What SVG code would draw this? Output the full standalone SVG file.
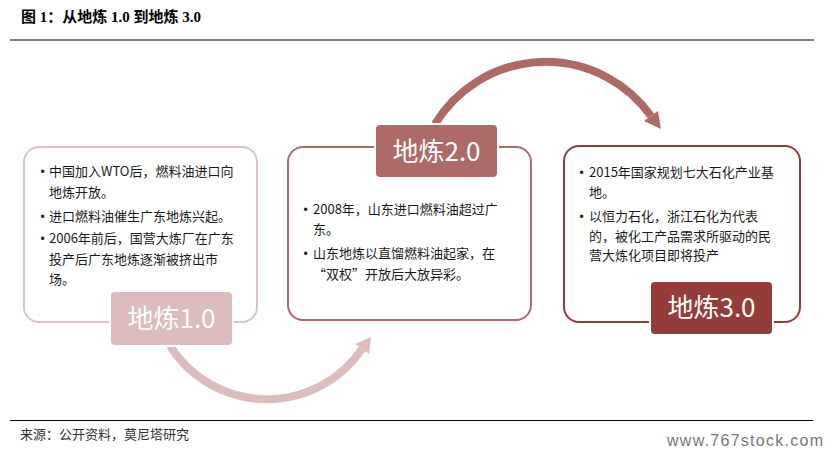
<svg xmlns="http://www.w3.org/2000/svg" width="835" height="456" viewBox="0 0 835 456">
<defs>
<style>
.t{font-family:"Noto Sans CJK SC","Noto Sans",sans-serif;font-size:13px;fill:#1a1a1a}
.b{font-family:"Liberation Sans",sans-serif;font-size:12px;fill:#1a1a1a}
.lab{font-family:"Noto Sans CJK SC","Noto Sans",sans-serif;font-size:26px;fill:#ffffff;text-anchor:middle}
.box{fill:#ffffff;stroke-width:2}
.arr{fill:none;stroke-width:8}
</style>
</defs>
<rect width="835" height="456" fill="#ffffff"/>
<text x="21" y="21.5" font-family="'Liberation Serif','Noto Sans CJK SC',serif" font-size="15" font-weight="bold" fill="#000">图 1：从地炼 1.0 到地炼 3.0</text>
<line x1="10" y1="40" x2="814" y2="40" stroke="#000" stroke-width="1.2"/>

<g id="connectors">
<path class="arr" stroke="#dcbcbc" d="M170,346 A115,115 0 0 0 362,349"/>
<polygon fill="#dcbcbc" points="371,337 369,354 355,344"/>
<path class="arr" stroke="#ae6a66" d="M435,124 A129.5,129.5 0 0 1 651,116"/>
<polygon fill="#ae6a66" points="661,129 658,111 644,121"/>
</g>

<g id="node1">
<rect class="box" stroke="#dfc3c3" x="24" y="147" width="233" height="175" rx="15"/>
<text class="b" x="40.5" y="176">•</text>
<text class="t" x="49" y="176">中国加入WTO后，燃料油进口向</text>
<text class="t" x="49" y="197">地炼开放。</text>
<text class="b" x="40.5" y="221">•</text>
<text class="t" x="49" y="221">进口燃料油催生广东地炼兴起。</text>
<text class="b" x="40.5" y="242.5">•</text>
<text class="t" x="49" y="242.5">2006年前后，国营大炼厂在广东</text>
<text class="t" x="49" y="263.5">投产后广东地炼逐渐被挤出市</text>
<text class="t" x="49" y="284">场。</text>
<rect x="111" y="292" width="121" height="53" rx="4" fill="#dcbcbc" stroke="#ffffff" stroke-width="4" paint-order="stroke"/>
<text class="lab" x="171.5" y="328">地炼1.0</text>
</g>

<g id="node2">
<rect class="box" stroke="#ae6a66" x="288" y="147" width="243" height="173" rx="15"/>
<rect x="376" y="125" width="121" height="52" rx="4" fill="#ae6a66" stroke="#ffffff" stroke-width="4" paint-order="stroke"/>
<text class="lab" x="436.5" y="161">地炼2.0</text>
<text class="b" x="303.5" y="213.5">•</text>
<text class="t" x="313" y="213.5">2008年，山东进口燃料油超过广</text>
<text class="t" x="313" y="234">东。</text>
<text class="b" x="303.5" y="258">•</text>
<text class="t" x="313" y="258">山东地炼以直馏燃料油起家，在</text>
<text class="t" x="313" y="278.5">“双权”开放后大放异彩。</text>
</g>

<g id="node3">
<rect class="box" stroke="#943c3a" x="564" y="146" width="236" height="176" rx="15"/>
<text class="b" x="579.5" y="177">•</text>
<text class="t" x="589" y="177">2015年国家规划七大石化产业基</text>
<text class="t" x="589" y="196.5">地。</text>
<text class="b" x="579.5" y="221">•</text>
<text class="t" x="589" y="221">以恒力石化，浙江石化为代表</text>
<text class="t" x="589" y="241">的，被化工产品需求所驱动的民</text>
<text class="t" x="589" y="260">营大炼化项目即将投产</text>
<rect x="651" y="282" width="121" height="52" rx="4" fill="#943c3a" stroke="#ffffff" stroke-width="4" paint-order="stroke"/>
<text class="lab" x="711.5" y="317">地炼3.0</text>
</g>

<line x1="10" y1="420.5" x2="813" y2="420.5" stroke="#000" stroke-width="1.2"/>
<text x="20" y="438.5" font-family="'Noto Sans CJK SC',sans-serif" font-size="13" fill="#333">来源：公开资料，莫尼塔研究</text>
<text x="667" y="446" font-family="'Liberation Sans','Open Sans',sans-serif" font-size="16" fill="#777" textLength="156">www.767stock.com</text>
</svg>
